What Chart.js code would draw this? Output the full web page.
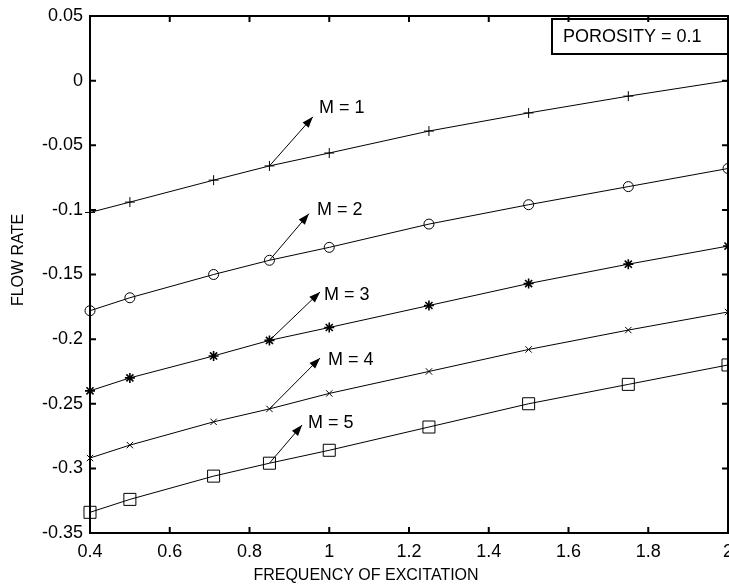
<!DOCTYPE html>
<html>
<head>
<meta charset="utf-8">
<script src="https://cdn.jsdelivr.net/npm/chart.js@4"></script>
<style>
  html, body { margin: 0; padding: 0; background: #fff; }
  #wrap { width: 729px; height: 587px; }
</style>
</head>
<body>
<div id="wrap"><canvas id="chart1" width="729" height="587"></canvas></div>
<script>
"use strict";

// values
const frequency = [0.4, 0.5, 0.71, 0.85, 1.0, 1.25, 1.5, 1.75, 2.0];
const flowM1 = [-0.102, -0.094, -0.077, -0.066, -0.056, -0.039, -0.025, -0.012, 0.0];
const flowM2 = [-0.178, -0.168, -0.150, -0.139, -0.129, -0.111, -0.096, -0.082, -0.068];
const flowM3 = [-0.240, -0.230, -0.213, -0.201, -0.191, -0.174, -0.157, -0.142, -0.128];
const flowM4 = [-0.292, -0.282, -0.264, -0.254, -0.242, -0.225, -0.208, -0.193, -0.179];
const flowM5 = [-0.334, -0.324, -0.306, -0.296, -0.286, -0.268, -0.250, -0.235, -0.220];
const seriesLabels = ['M = 1', 'M = 2', 'M = 3', 'M = 4', 'M = 5'];

const xTicks = [0.4, 0.6, 0.8, 1, 1.2, 1.4, 1.6, 1.8, 2];
const yTicks = [0.05, 0, -0.05, -0.1, -0.15, -0.2, -0.25, -0.3, -0.35];

// annotation arrows: tail on the 4th point of each curve, head and text in data units
const arrowFrom = 3;
const arrowHeadX = [0.959, 0.949, 0.977, 0.977, 0.932];
const arrowHeadY = [-0.028, -0.103, -0.1635, -0.2146, -0.2664];
const labelX = [0.974, 0.969, 0.987, 0.997, 0.947];
const labelY = [-0.0212, -0.1001, -0.1659, -0.2162, -0.2649];

const legendText = 'POROSITY = 0.1';
const xTitle = 'FREQUENCY OF EXCITATION';
const yTitle = 'FLOW RATE';

const allSeries = [flowM1, flowM2, flowM3, flowM4, flowM5];
const markers = ['cross', 'circle', 'star', 'crossRot', 'rect'];
const markerSize = [5, 5, 5, 4.5, 8.5];

const FONT = "'Liberation Sans', Arial, sans-serif";
Chart.defaults.font.family = FONT;
Chart.defaults.color = '#000';

const datasets = allSeries.map((vals, i) => ({
    label: seriesLabels[i],
    data: frequency.map((f, j) => ({x: f, y: vals[j]})),
    borderColor: '#000',
    borderWidth: 1,
    pointStyle: markers[i],
    pointRadius: markerSize[i],
    pointBorderColor: '#000',
    pointBackgroundColor: 'rgba(0,0,0,0)',
    pointBorderWidth: i === 2 ? 1.6 : 1,
    tension: 0,
    clip: false,
}));

const matlabFrame = {
    id: 'matlabFrame',
    afterDatasetsDraw(chart) {
        const {ctx, chartArea: a, scales: {x, y}} = chart;
        ctx.save();

        // arrows + labels
        ctx.strokeStyle = '#000';
        ctx.fillStyle = '#000';
        ctx.lineWidth = 1;
        allSeries.forEach((vals, i) => {
            const x0 = x.getPixelForValue(frequency[arrowFrom]);
            const y0 = y.getPixelForValue(vals[arrowFrom]);
            const x1 = x.getPixelForValue(arrowHeadX[i]);
            const y1 = y.getPixelForValue(arrowHeadY[i]);
            ctx.beginPath();
            ctx.moveTo(x0, y0);
            ctx.lineTo(x1, y1);
            ctx.stroke();
            const ang = Math.atan2(y1 - y0, x1 - x0);
            const len = 11, half = 4;
            const bx = x1 - len * Math.cos(ang), by = y1 - len * Math.sin(ang);
            ctx.beginPath();
            ctx.moveTo(x1, y1);
            ctx.lineTo(bx + half * Math.sin(ang), by - half * Math.cos(ang));
            ctx.lineTo(bx - half * Math.sin(ang), by + half * Math.cos(ang));
            ctx.closePath();
            ctx.fill();

            ctx.font = '18px ' + FONT;
            ctx.textAlign = 'left';
            ctx.textBaseline = 'middle';
            ctx.fillText(seriesLabels[i], x.getPixelForValue(labelX[i]), y.getPixelForValue(labelY[i]));
        });

        // legend box
        const bw = 176, bh = 36;
        ctx.fillStyle = '#fff';
        ctx.fillRect(a.right - bw, a.top + 2, bw, bh);
        ctx.lineWidth = 2;
        ctx.strokeRect(a.right - bw, a.top + 3, bw, bh - 1);
        ctx.fillStyle = '#000';
        ctx.font = '18px ' + FONT;
        ctx.textAlign = 'left';
        ctx.textBaseline = 'middle';
        ctx.fillText(legendText, a.right - bw + 11, a.top + 21);

        // axes box
        ctx.lineWidth = 2;
        ctx.strokeRect(a.left, a.top, a.right - a.left, a.bottom - a.top);

        // inward ticks
        const tl = 6;
        ctx.beginPath();
        xTicks.forEach(v => {
            const px = x.getPixelForValue(v);
            ctx.moveTo(px, a.bottom); ctx.lineTo(px, a.bottom - tl);
            ctx.moveTo(px, a.top); ctx.lineTo(px, a.top + tl);
        });
        yTicks.forEach(v => {
            const py = y.getPixelForValue(v);
            ctx.moveTo(a.left, py); ctx.lineTo(a.left + tl, py);
            ctx.moveTo(a.right, py); ctx.lineTo(a.right - tl, py);
        });
        ctx.stroke();

        // axis titles (figure-centred like the original, not axes-centred)
        ctx.font = '16px ' + FONT;
        ctx.textAlign = 'center';
        ctx.textBaseline = 'middle';
        ctx.fillText(xTitle, a.left + 276, a.bottom + 43);
        ctx.translate(a.left - 71, a.top + 244);
        ctx.rotate(-Math.PI / 2);
        ctx.fillText(yTitle, 0, 0);
        ctx.restore();
    }
};

const config = {
    type: 'line',
    data: {datasets},
    options: {
        responsive: false,
        animation: false,
        devicePixelRatio: 1,
        layout: {autoPadding: false, padding: {top: 16, right: 1, left: 0, bottom: 0}},
        plugins: {legend: {display: false}, tooltip: {enabled: false}},
        scales: {
            x: {
                type: 'linear',
                min: 0.4,
                max: 2,
                grid: {display: false, drawTicks: false},
                border: {display: false},
                afterBuildTicks: s => { s.ticks = xTicks.map(v => ({value: v})); },
                afterFit: s => { s.height = 54; s.paddingLeft = 0; s.paddingRight = 0; },
                ticks: {
                    font: {size: 18},
                    padding: 8,
                    maxRotation: 0,
                    autoSkip: false,
                    callback: v => String(v),
                },
                title: {display: false},
            },
            y: {
                type: 'linear',
                min: -0.35,
                max: 0.05,
                grid: {display: false, drawTicks: false},
                border: {display: false},
                afterBuildTicks: s => { s.ticks = yTicks.map(v => ({value: v})); },
                afterFit: s => { s.width = 90; s.paddingTop = 0; s.paddingBottom = 0; },
                ticks: {
                    font: {size: 18},
                    padding: 7,
                    autoSkip: false,
                    callback: v => String(v),
                },
                title: {display: false},
            },
        },
    },
    plugins: [matlabFrame],
};

const myChart = new Chart(document.getElementById('chart1'), config);
</script>
</body>
</html>
